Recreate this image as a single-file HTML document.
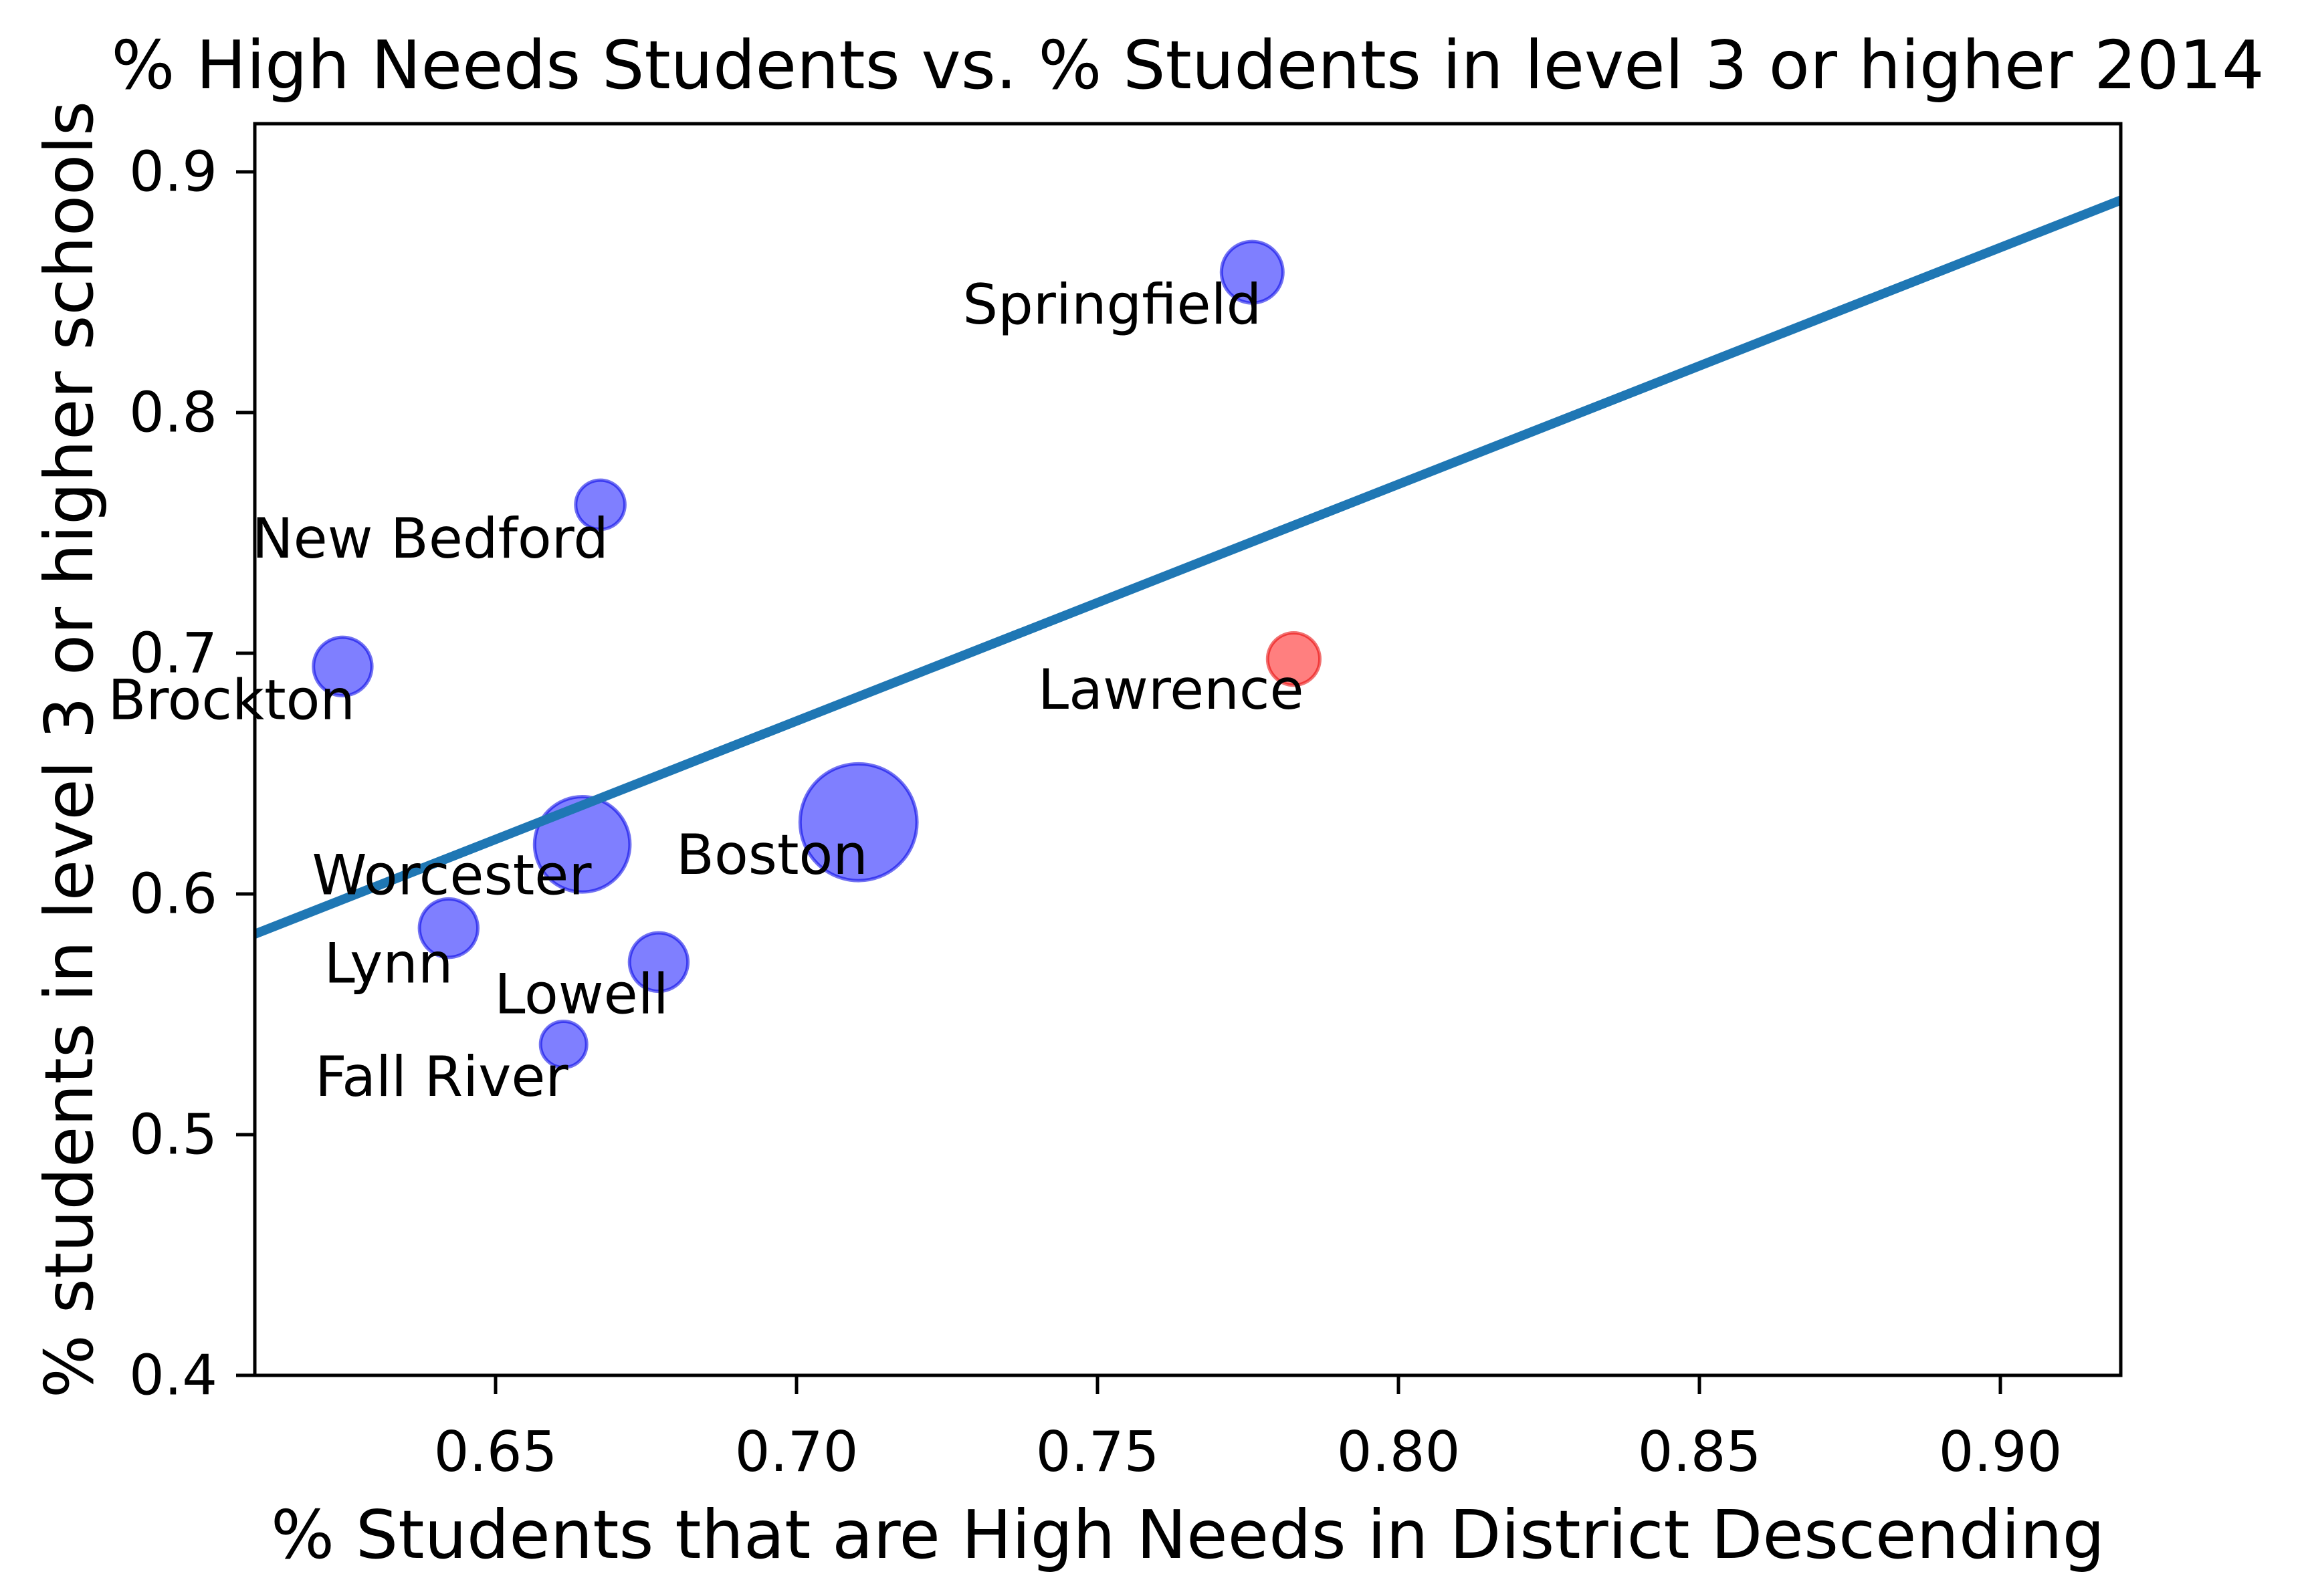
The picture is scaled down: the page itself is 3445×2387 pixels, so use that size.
<!DOCTYPE html>
<html><head><meta charset="utf-8"><style>
html,body{margin:0;padding:0;background:#fff;}
svg{display:block;font-family:"DejaVu Sans","Liberation Sans",sans-serif;}
</style></head><body>
<svg id="chart" width="3445" height="2387" viewBox="0 0 3445 2387" xmlns="http://www.w3.org/2000/svg">
<rect width="3445" height="2387" fill="#fff"/>
<text x="1776" y="132" font-size="100" text-anchor="middle">% High Needs Students vs. % Students in level 3 or higher 2014</text>
<g id="plot"></g>
<g id="axes"></g>
<text x="1776" y="2330" font-size="100" text-anchor="middle">% Students that are High Needs in District Descending</text>
<text transform="translate(138,1121) rotate(-90)" font-size="100" text-anchor="middle">% students in level 3 or higher schools</text>
</svg>
<script>
const districts = ["Springfield","New Bedford","Brockton","Lawrence","Boston","Worcester","Lynn","Lowell","Fall River"];
const highNeeds = [0.7757,0.6674,0.6246,0.7826,0.7103,0.6644,0.6422,0.6771,0.6613];
const level3 = [0.8583,0.7617,0.6945,0.6976,0.6298,0.6206,0.5858,0.5717,0.5375];
const markerSize = [20,16,19,17,38,31,19,19,15];
const highlight = [false,false,false,true,false,false,false,false,false];
const labelX = [0.7276,0.6095,0.5856,0.7401,0.6800,0.6195,0.6215,0.6498,0.6200];
const labelY = [0.8449,0.7477,0.6805,0.6848,0.6163,0.6078,0.5711,0.5583,0.5240];
const fitSlope = [0.9835];
const fitIntercept = [-0.0166];
const xTicks = [0.65,0.70,0.75,0.80,0.85,0.90];
const xTickLabels = ["0.65","0.70","0.75","0.80","0.85","0.90"];
const yTicks = [0.4,0.5,0.6,0.7,0.8,0.9];
const yTickLabels = ["0.4","0.5","0.6","0.7","0.8","0.9"];
const xDomain = [0.61,0.92];
const yDomain = [0.4,0.92];

const L=381,R=3171,T=185,B=2057;
const NS="http://www.w3.org/2000/svg";
function sx(v){return L+(v-xDomain[0])/(xDomain[1]-xDomain[0])*(R-L);}
function sy(v){return B-(v-yDomain[0])/(yDomain[1]-yDomain[0])*(B-T);}
function mk(tag,attrs,parent){const e=document.createElementNS(NS,tag);for(const k in attrs)e.setAttribute(k,attrs[k]);parent.appendChild(e);return e;}
const plot=document.getElementById('plot');
const axes=document.getElementById('axes');
mk('clipPath',{id:'clip'},plot).appendChild((()=>{const r=document.createElementNS(NS,'rect');r.setAttribute('x',L);r.setAttribute('y',T);r.setAttribute('width',R-L);r.setAttribute('height',B-T);return r;})());
const pg=mk('g',{'clip-path':'url(#clip)'},plot);
const scale=2.3;
districts.forEach((d,i)=>{
  const c=mk('circle',{cx:sx(highNeeds[i]),cy:sy(level3[i]),r:markerSize[i]*scale,fill:highlight[i]?'rgba(255,0,0,0.5)':'rgba(0,0,255,0.5)',stroke:highlight[i]?'rgba(230,0,0,0.55)':'rgba(0,0,230,0.55)','stroke-width':5},pg);
  
  
});
const x0=xDomain[0],x1=xDomain[1];
const ln=mk('line',{x1:sx(x0),y1:sy(fitSlope[0]*x0+fitIntercept[0]),x2:sx(x1),y2:sy(fitSlope[0]*x1+fitIntercept[0]),stroke:'#1f77b4','stroke-width':14},pg);


districts.forEach((d,i)=>{
  const t=mk('text',{x:sx(labelX[i]),y:sy(labelY[i]),'font-size':83,'dominant-baseline':'central'},plot);
  t.textContent=d;
  
  
});
const frame=mk('rect',{x:L,y:T,width:R-L,height:B-T,fill:'none',stroke:'#000','stroke-width':5},axes);


xTicks.forEach((v,i)=>{
  const tk=mk('line',{x1:sx(v),x2:sx(v),y1:B,y2:B+28,stroke:'#000','stroke-width':5},axes);
  
  
  const t=mk('text',{x:sx(v),y:B+143,'font-size':83,'text-anchor':'middle'},axes);
  t.textContent=xTickLabels[i];
  
  
});
yTicks.forEach((v,i)=>{
  const tk=mk('line',{x1:L-28,x2:L,y1:sy(v),y2:sy(v),stroke:'#000','stroke-width':5},axes);
  
  
  const t=mk('text',{x:L-56,y:sy(v),'font-size':83,'text-anchor':'end','dominant-baseline':'central'},axes);
  t.textContent=yTickLabels[i];
  
  
});
</script>
</body></html>
